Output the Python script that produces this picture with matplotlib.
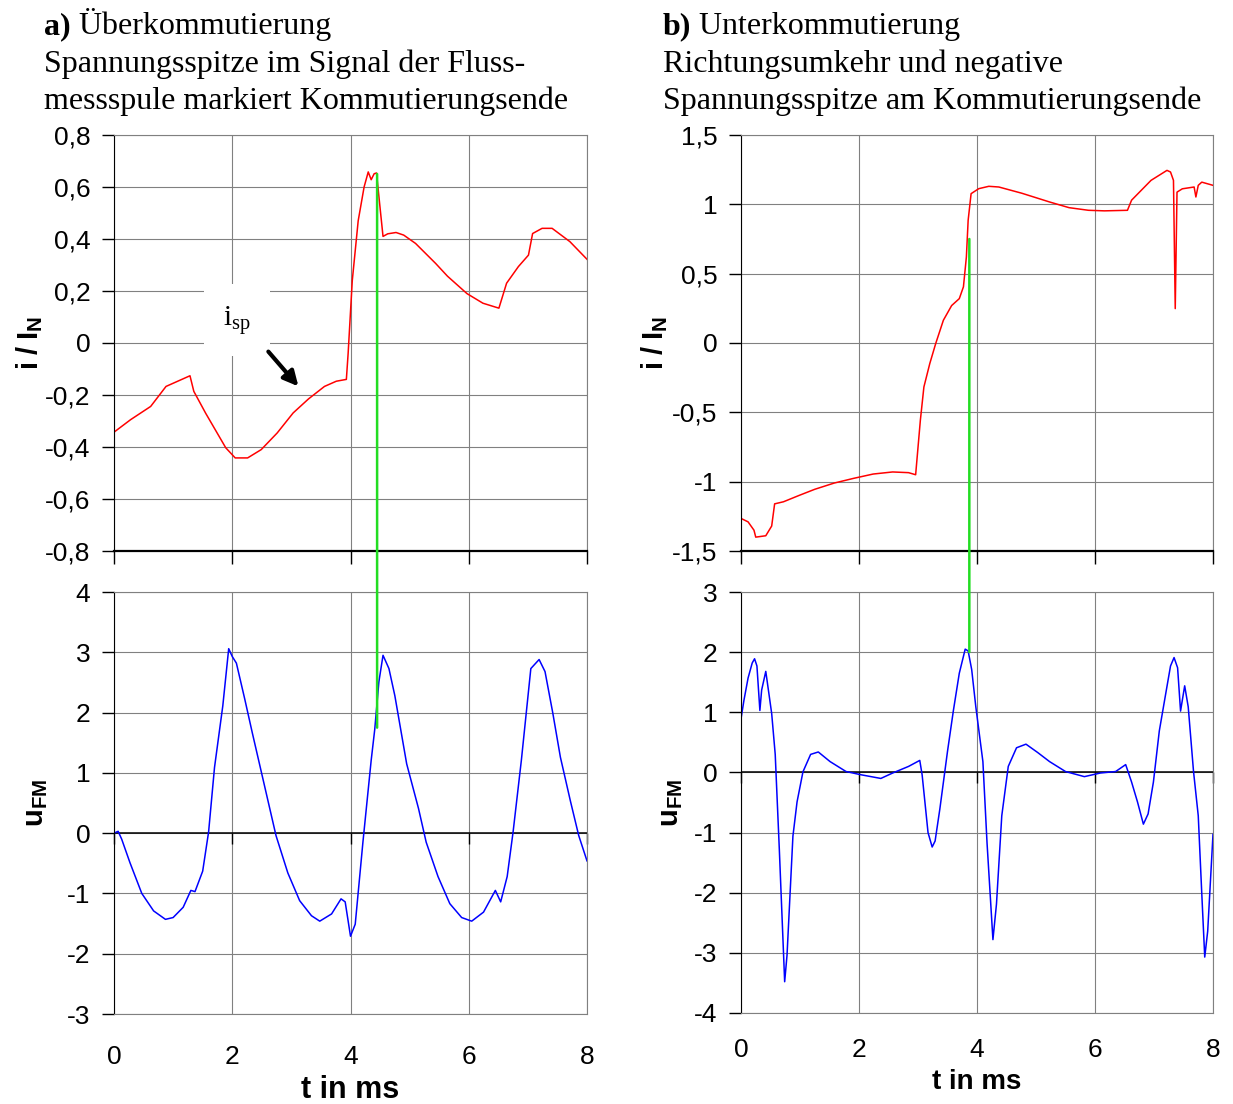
import matplotlib
matplotlib.use("Agg")
import matplotlib.pyplot as plt
from matplotlib.patches import ConnectionPatch

plt.rcParams['font.family'] = ['Liberation Sans', 'DejaVu Sans']
plt.rcParams['mathtext.fontset'] = 'custom'
plt.rcParams['mathtext.rm'] = 'Liberation Serif'
plt.rcParams['mathtext.it'] = 'Liberation Serif:italic'
plt.rcParams['mathtext.bf'] = 'Liberation Sans:bold'

# ---------- Daten ----------
t_ticks = [0, 2, 4, 6, 8]

# a) Überkommutierung: Strom i_sp
a_t_i = [0, 0.28, 0.62, 0.88, 1.285, 1.35, 1.55, 1.89, 2.05, 2.26, 2.49, 2.76, 3.03,
         3.29, 3.56, 3.76, 3.93, 3.96, 4.03, 4.13, 4.23, 4.30, 4.35, 4.40, 4.44, 4.50,
         4.55, 4.63, 4.77, 4.90, 5.10, 5.44, 5.64, 5.97, 6.24, 6.51, 6.64, 6.84, 7.01,
         7.08, 7.24, 7.41, 7.71, 8.0]
a_i = [-0.343, -0.295, -0.244, -0.167, -0.126, -0.186, -0.27, -0.403, -0.442, -0.442,
       -0.41, -0.346, -0.269, -0.215, -0.167, -0.147, -0.14, -0.04, 0.24, 0.47, 0.60,
       0.658, 0.628, 0.651, 0.654, 0.52, 0.41, 0.42, 0.425, 0.415, 0.383, 0.306, 0.257,
       0.19, 0.153, 0.134, 0.23, 0.294, 0.338, 0.421, 0.441, 0.441, 0.39, 0.322]

# a) Signal der Flussmessspule u_FM
a_t_u = [0, 0.07, 0.13, 0.27, 0.47, 0.67, 0.87, 1.0, 1.17, 1.30, 1.37, 1.50, 1.60, 1.70,
         1.84, 1.94, 2.0, 2.07, 2.21, 2.34, 2.54, 2.74, 2.94, 3.14, 3.34, 3.48, 3.68,
         3.84, 3.91, 4.0, 4.08, 4.21, 4.35, 4.41, 4.48, 4.55, 4.65, 4.75, 4.95, 5.15,
         5.28, 5.48, 5.68, 5.88, 6.05, 6.25, 6.45, 6.54, 6.65, 6.75, 6.89, 7.05, 7.19,
         7.29, 7.42, 7.55, 7.72, 7.86, 8.0]
a_u = [0.0, 0.03, -0.1, -0.49, -1.0, -1.29, -1.43, -1.40, -1.23, -0.95, -0.97, -0.63,
       0.02, 1.09, 2.11, 3.06, 2.93, 2.82, 2.23, 1.66, 0.81, -0.04, -0.66, -1.12, -1.37,
       -1.46, -1.34, -1.09, -1.14, -1.71, -1.51, -0.15, 1.21, 1.72, 2.51, 2.95, 2.73,
       2.28, 1.15, 0.41, -0.15, -0.72, -1.17, -1.40, -1.46, -1.31, -0.95, -1.14, -0.72,
       0.02, 1.21, 2.73, 2.88, 2.68, 2.0, 1.26, 0.53, -0.04, -0.46]

# b) Unterkommutierung: Strom
b_t_i = [0, 0.12, 0.22, 0.25, 0.42, 0.52, 0.57, 0.72, 0.98, 1.25, 1.58, 1.91, 2.24, 2.57,
         2.84, 2.96, 3.04, 3.10, 3.20, 3.30, 3.43, 3.57, 3.70, 3.77, 3.82, 3.85, 3.90,
         4.03, 4.20, 4.37, 4.76, 5.23, 5.56, 5.89, 6.16, 6.55, 6.62, 6.95, 7.22, 7.28,
         7.33, 7.36, 7.39, 7.48, 7.68, 7.71, 7.75, 7.81, 8.0]
b_i = [-1.265, -1.29, -1.35, -1.40, -1.39, -1.32, -1.16, -1.145, -1.10, -1.055, -1.01,
       -0.976, -0.945, -0.93, -0.935, -0.95, -0.557, -0.317, -0.148, -0.004, 0.164, 0.27,
       0.32, 0.405, 0.62, 0.885, 1.077, 1.113, 1.13, 1.125, 1.08, 1.017, 0.976, 0.957,
       0.953, 0.957, 1.03, 1.173, 1.245, 1.233, 1.173, 0.248, 1.088, 1.112, 1.125, 1.053,
       1.137, 1.16, 1.137]

# b) u_FM
b_t_u = [0, 0.05, 0.12, 0.19, 0.23, 0.27, 0.32, 0.35, 0.42, 0.46, 0.52, 0.58, 0.65, 0.74,
         0.78, 0.88, 0.95, 1.05, 1.18, 1.31, 1.51, 1.78, 2.04, 2.37, 2.57, 2.84, 3.03,
         3.07, 3.17, 3.24, 3.29, 3.37, 3.50, 3.60, 3.70, 3.80, 3.85, 3.91, 3.98, 4.10,
         4.17, 4.27, 4.33, 4.42, 4.53, 4.67, 4.83, 5.03, 5.23, 5.50, 5.82, 6.09, 6.35,
         6.52, 6.62, 6.72, 6.82, 6.90, 6.99, 7.09, 7.19, 7.28, 7.34, 7.40, 7.45, 7.52,
         7.58, 7.67, 7.75, 7.81, 7.86, 7.91, 8.0]
b_u = [0.89, 1.20, 1.57, 1.82, 1.89, 1.77, 1.03, 1.37, 1.68, 1.40, 0.98, 0.30, -1.29,
       -3.48, -3.04, -1.06, -0.49, 0.01, 0.30, 0.34, 0.18, 0.015, -0.04, -0.10, -0.01,
       0.10, 0.20, -0.04, -1.0, -1.24, -1.14, -0.61, 0.35, 1.03, 1.65, 2.05, 2.02, 1.71,
       1.09, 0.18, -1.17, -2.78, -2.19, -0.72, 0.10, 0.41, 0.47, 0.33, 0.18, 0.015,
       -0.07, -0.01, 0.015, 0.13, -0.16, -0.49, -0.86, -0.69, -0.16, 0.69, 1.26, 1.77,
       1.91, 1.74, 1.02, 1.44, 1.09, 0.015, -0.72, -2.02, -3.07, -2.64, -1.03]

# Kommutierungsende (grüne Markierung)
a_green = (4.45, 0.65, 1.75)   # t, i-Wert oben, u-Wert unten
b_green = (3.87, 0.75, 2.0)

a_i_ticks = [-0.8, -0.6, -0.4, -0.2, 0, 0.2, 0.4, 0.6, 0.8]
a_u_ticks = [-3, -2, -1, 0, 1, 2, 3, 4]
b_i_ticks = [-1.5, -1, -0.5, 0, 0.5, 1, 1.5]
b_u_ticks = [-4, -3, -2, -1, 0, 1, 2, 3]


def fmt(v):
    return ('%g' % v).replace('.', ',')


W, H = 1233, 1104
fig = plt.figure(figsize=(W / 100, H / 100), dpi=100)

axA1 = fig.add_axes([114 / W, 1 - 551 / H, 473 / W, 416 / H])
axA2 = fig.add_axes([114 / W, 1 - 1014 / H, 473 / W, 422 / H])
axB1 = fig.add_axes([741 / W, 1 - 551 / H, 472 / W, 416 / H])
axB2 = fig.add_axes([741 / W, 1 - 1013 / H, 472 / W, 421 / H])


def grundstil(ax, yticks):
    ax.set_xlim(0, 8)
    ax.set_ylim(yticks[0], yticks[-1])
    ax.set_xticks(t_ticks)
    ax.set_yticks(yticks)
    ax.set_yticklabels([fmt(v) for v in yticks])
    ax.grid(True, color='#808080', lw=0.8)
    ax.set_axisbelow(True)
    for s in ['top', 'right']:
        ax.spines[s].set_color('#808080')
    ax.spines['left'].set_color('k')
    ax.tick_params(axis='y', direction='out', length=9, width=1, pad=8, labelsize=19)


# obere Diagramme (Strom)
for ax, yt in [(axA1, a_i_ticks), (axB1, b_i_ticks)]:
    grundstil(ax, yt)
    ax.spines['bottom'].set_linewidth(1.6)
    ax.tick_params(axis='x', direction='out', length=9, width=1, labelbottom=False)

# untere Diagramme (u_FM)
for ax, yt, xl, pad, fs in [(axA2, a_u_ticks, -0.145, 22, 22), (axB2, b_u_ticks, -0.132, 18, 20)]:
    grundstil(ax, yt)
    ax.spines['bottom'].set_color('#808080')
    ax.tick_params(axis='x', length=0, pad=pad, labelsize=19)
    ax.axhline(0, color='k', lw=1.1)
    ax.plot(t_ticks, [0] * len(t_ticks), ls='none', marker=3, ms=8, mew=1, color='k', clip_on=False)
    ax.set_xlabel('t in ms', fontsize=fs, fontweight='bold')
    ax.xaxis.set_label_coords(0.5, xl)

axA1.plot(a_t_i, a_i, color='red', lw=1.1)
axA2.plot(a_t_u, a_u, color='blue', lw=1.1)
axB1.plot(b_t_i, b_i, color='red', lw=1.1)
axB2.plot(b_t_u, b_u, color='blue', lw=1.1)

axA1.set_ylabel(r'$\mathbf{i\ /\ I}_\mathbf{N}$', fontsize=21)
axA1.yaxis.set_label_coords(-0.146, 0.5)
axB1.set_ylabel(r'$\mathbf{i\ /\ I}_\mathbf{N}$', fontsize=21)
axB1.yaxis.set_label_coords(-0.150, 0.5)
axA2.set_ylabel(r'$\mathbf{u}_\mathbf{FM}$', fontsize=21)
axA2.yaxis.set_label_coords(-0.135, 0.5)
axB2.set_ylabel(r'$\mathbf{u}_\mathbf{FM}$', fontsize=21)
axB2.yaxis.set_label_coords(-0.119, 0.5)

# grüne Linie über beide Diagramme
for top, bot, g in [(axA1, axA2, a_green), (axB1, axB2, b_green)]:
    con = ConnectionPatch(xyA=(g[0], g[1]), coordsA='data', axesA=top,
                          xyB=(g[0], g[2]), coordsB='data', axesB=bot,
                          color='#22dd22', lw=1.8, zorder=5)
    fig.add_artist(con)

# i_sp Beschriftung mit Pfeil
axA1.text(2.08, 0.088, r'$\mathrm{i}_\mathrm{sp}$', fontsize=21, ha='center', va='center',
          bbox=dict(facecolor='white', edgecolor='none', pad=14), zorder=4)
axA1.annotate('', xy=(3.15, -0.175), xytext=(2.58, -0.025),
              arrowprops=dict(arrowstyle='-|>', lw=3, mutation_scale=22, color='k'), zorder=4)

# Überschriften
serif = ['Liberation Serif', 'DejaVu Serif']
tfs = 23
for x0, lab, l1, l2, l3 in [
        (44, 'a)', ' Überkommutierung', 'Spannungsspitze im Signal der Fluss-',
         'messspule markiert Kommutierungsende'),
        (663, 'b)', ' Unterkommutierung', 'Richtungsumkehr und negative',
         'Spannungsspitze am Kommutierungsende')]:
    t1 = fig.text(x0 / W, 1 - 41 / H, lab, family=serif, fontsize=tfs, fontweight='bold', va='bottom')
    axA1.annotate(l1, xy=(1, 0), xycoords=t1, family=serif, fontsize=tfs, va='bottom',
                  annotation_clip=False)
    fig.text(x0 / W, 1 - 72 / H, l2, family=serif, fontsize=tfs, va='baseline')
    fig.text(x0 / W, 1 - 109 / H, l3, family=serif, fontsize=tfs, va='baseline')

fig.savefig('out.png', dpi=100)
